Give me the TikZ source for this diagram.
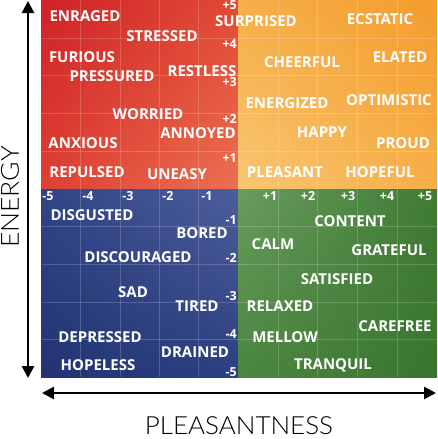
\documentclass[tikz,border=0pt]{standalone}
\usepackage{fontspec}
\setmainfont{Open Sans}
\newfontfamily\axisfont{Lato Light}
\usetikzlibrary{arrows.meta,shadings}
\definecolor{redA}{HTML}{CF2228}
\definecolor{redB}{HTML}{E14A34}
\definecolor{redC}{HTML}{DD4032}
\definecolor{redD}{HTML}{EC7052}
\definecolor{orA}{HTML}{F6AE48}
\definecolor{orB}{HTML}{F49C2E}
\definecolor{orC}{HTML}{F9C672}
\definecolor{orD}{HTML}{F6AE48}
\definecolor{blA}{HTML}{213372}
\definecolor{blB}{HTML}{2C3F80}
\definecolor{blC}{HTML}{304486}
\definecolor{blD}{HTML}{4E5E9C}
\definecolor{grA}{HTML}{3A752F}
\definecolor{grB}{HTML}{3F7B35}
\definecolor{grC}{HTML}{4A8640}
\definecolor{grD}{HTML}{6A9C5E}
\tikzset{
  lab/.style={text=white, font=\bfseries\fontsize{15}{16}\selectfont, inner sep=0pt},
  num/.style={text=white, font=\bfseries\fontsize{12.5}{13}\selectfont, inner sep=0pt},
  gridl/.style={white, opacity=0.18, line width=0.6pt},
  axis/.style={line width=2.6pt, {Triangle[length=12pt,width=12pt]}-{Triangle[length=12pt,width=12pt]}},
  axislab/.style={font=\axisfont\fontsize{25}{26}\selectfont, inner sep=0pt}
}
\begin{document}
\begin{tikzpicture}[x=1pt,y=-1pt]
\useasboundingbox (0,0) rectangle (437,439);
% quadrants
\shade[upper left=redA, upper right=redB, lower left=redC, lower right=redD] (41,0) rectangle (238,189);
\shade[upper left=orA, upper right=orB, lower left=orC, lower right=orD] (238,0) rectangle (437,189);
\shade[upper left=blC, upper right=blD, lower left=blA, lower right=blB] (41,189) rectangle (238,377);
\shade[upper left=grD, upper right=grB, lower left=grC, lower right=grA] (238,189) rectangle (437,377);
% grid
\foreach \x in {80.4,119.8,159.2,198.6,277.8,317.6,357.4,397.2} \draw[gridl] (\x,0) -- (\x,377);
\foreach \y in {37.8,75.6,113.4,151.2,226.6,264.2,301.8,339.4} \draw[gridl] (41,\y) -- (437,\y);
% numbers
\node[num, anchor=east] (p5) at (237,5) {+5};
\node[num, anchor=east] (p4) at (237,44) {+4};
\node[num, anchor=east] (p3) at (237,82) {+3};
\node[num, anchor=east] (p2) at (237,119) {+2};
\node[num, anchor=east] (p1) at (237,158) {+1};
\node[num, anchor=east] (m1) at (237,220) {-1};
\node[num, anchor=east] (m2) at (237,258) {-2};
\node[num, anchor=east] (m3) at (237,296) {-3};
\node[num, anchor=east] (m4) at (237,334) {-4};
\node[num, anchor=east] (m5) at (237,372) {-5};
\node[num] (h5) at (48,196) {-5};
\node[num] (h4) at (88,196) {-4};
\node[num] (h3) at (128,196) {-3};
\node[num] (h2) at (168,196) {-2};
\node[num] (h1) at (207,196) {-1};
\node[num] (k1) at (270,196) {+1};
\node[num] (k2) at (308,196) {+2};
\node[num] (k3) at (348,196) {+3};
\node[num] (k4) at (387,196) {+4};
\node[num] (k5) at (425,196) {+5};
% red
\node[lab] (enraged) at (85,16) {ENRAGED};
\node[lab] (stressed) at (162,36) {STRESSED};
\node[lab] (furious) at (82,57) {FURIOUS};
\node[lab] (pressured) at (112,76) {PRESSURED};
\node[lab] (restless) at (202,71) {RESTLESS};
\node[lab] (worried) at (148,114) {WORRIED};
\node[lab] (annoyed) at (198,133) {ANNOYED};
\node[lab] (anxious) at (83,143) {ANXIOUS};
\node[lab] (repulsed) at (87,172) {REPULSED};
\node[lab] (uneasy) at (177,174) {UNEASY};
\node[lab] (surprised) at (256,21) {SURPRISED};
% orange
\node[lab] (ecstatic) at (380,19) {ECSTATIC};
\node[lab] (cheerful) at (302,62) {CHEERFUL};
\node[lab] (elated) at (400,57) {ELATED};
\node[lab] (energized) at (287,103) {ENERGIZED};
\node[lab] (optimistic) at (389,100) {OPTIMISTIC};
\node[lab] (happy) at (322,132) {HAPPY};
\node[lab] (proud) at (403,143) {PROUD};
\node[lab] (pleasant) at (285,172) {PLEASANT};
\node[lab] (hopeful) at (380,172) {HOPEFUL};
% blue
\node[lab] (disgusted) at (92,215) {DISGUSTED};
\node[lab] (bored) at (202,233) {BORED};
\node[lab] (discouraged) at (138,257) {DISCOURAGED};
\node[lab] (sad) at (133,292) {SAD};
\node[lab] (tired) at (197,306) {TIRED};
\node[lab] (depressed) at (100,337) {DEPRESSED};
\node[lab] (drained) at (195,352) {DRAINED};
\node[lab] (hopeless) at (98,365) {HOPELESS};
% green
\node[lab] (content) at (350,221) {CONTENT};
\node[lab] (calm) at (273,244) {CALM};
\node[lab] (grateful) at (389,250) {GRATEFUL};
\node[lab] (satisfied) at (337,279) {SATISFIED};
\node[lab] (relaxed) at (280,306) {RELAXED};
\node[lab] (carefree) at (395,326) {CAREFREE};
\node[lab] (mellow) at (285,337) {MELLOW};
\node[lab] (tranquil) at (333,365) {TRANQUIL};
% axes
\coordinate (vtop) at (28,1);
\coordinate (vbot) at (28,378);
\coordinate (hl) at (42,393);
\coordinate (hr) at (436,393);
\draw[axis] (vbot) -- (vtop);
\draw[axis] (hl) -- (hr);
\node[axislab, rotate=90] (energy) at (10,197) {\scalebox{1.06}[1]{ENERGY}};
\node[axislab] (pleas) at (239,426) {\scalebox{1.04}[1]{PLEASANTNESS}};
\end{tikzpicture}
\end{document}
